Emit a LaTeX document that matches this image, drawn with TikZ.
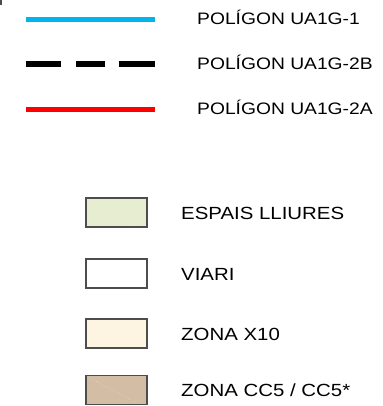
\documentclass[tikz,border=0pt]{standalone}
\usepackage{fontspec}
\newfontfamily\legfont[FakeStretch=1.16]{Liberation Sans}
\usetikzlibrary{positioning}
\definecolor{blauUA}{HTML}{00B4EE}
\definecolor{vermellUA}{HTML}{FF0000}
\definecolor{espais}{HTML}{E6EDD0}
\definecolor{zonaX}{HTML}{FDF5E1}
\definecolor{zonaCC}{HTML}{D3BDA5}
\definecolor{vora}{HTML}{4D4D4D}

\begin{document}
\begin{tikzpicture}[x=1pt,y=-1pt,
  etiq/.style={anchor=base west, inner sep=0pt, font=\legfont\fontsize{16.6}{20}\selectfont},
  etiqzona/.style={anchor=base west, inner sep=0pt, font=\legfont\fontsize{17.6}{21}\selectfont},
  caixa/.style={draw=vora, line width=1.6pt, minimum width=61pt, minimum height=29pt, inner sep=0pt},
  ratlla/.style={white, opacity=.45, line width=.6pt, dotted}]
\useasboundingbox (0,0) rectangle (382,406);
\fill[vora] (0,0) rectangle (1.5,5);

% limits dels poligons
\coordinate (b1) at (26,19.5);  \coordinate (b2) at (155,19.5);
\coordinate (n1) at (26,64);    \coordinate (n2) at (155,64);
\coordinate (v1) at (26,109.7); \coordinate (v2) at (155,109.7);
\draw[blauUA, line width=4.3pt] (b1) -- (b2);
\draw[black, line width=6.8pt, dash pattern=on 34.7pt off 15.3pt on 29.3pt off 14pt on 35.3pt off 20pt] (n1) -- (n2);
\draw[vermellUA, line width=4.6pt] (v1) -- (v2);
\node[etiq] (ua1)  at (197,25)  {POLÍGON UA1G-1};
\node[etiq] (ua2b) at (197,70)  {POLÍGON UA1G-2B};
\node[etiq] (ua2a) at (197,115) {POLÍGON UA1G-2A};

% zones
\node[caixa, fill=espais] (esp) at (116.5,212.5) {};
\node[caixa, fill=white]  (via) at (116.5,273.5) {};
\node[caixa, fill=zonaX]  (x10) at (116.5,333.5) {};
\node[caixa, fill=zonaCC] (cc5) at (116.5,390)   {};
\draw[ratlla] ([shift={(4,3)}]esp.north west) -- ([shift={(-12,-3)}]esp.south east);
\draw[ratlla] ([shift={(4,3)}]cc5.north west) -- ([shift={(-12,-3)}]cc5.south east);
\node[etiqzona] (tesp) at (181,219.5) {ESPAIS LLIURES};
\node[etiqzona] (tvia) at (181,280.5) {VIARI};
\node[etiqzona] (tx10) at (181,340.5) {ZONA X10};
\node[etiqzona] (tcc5) at (181,396)   {ZONA CC5 / CC5*};
\end{tikzpicture}
\end{document}
